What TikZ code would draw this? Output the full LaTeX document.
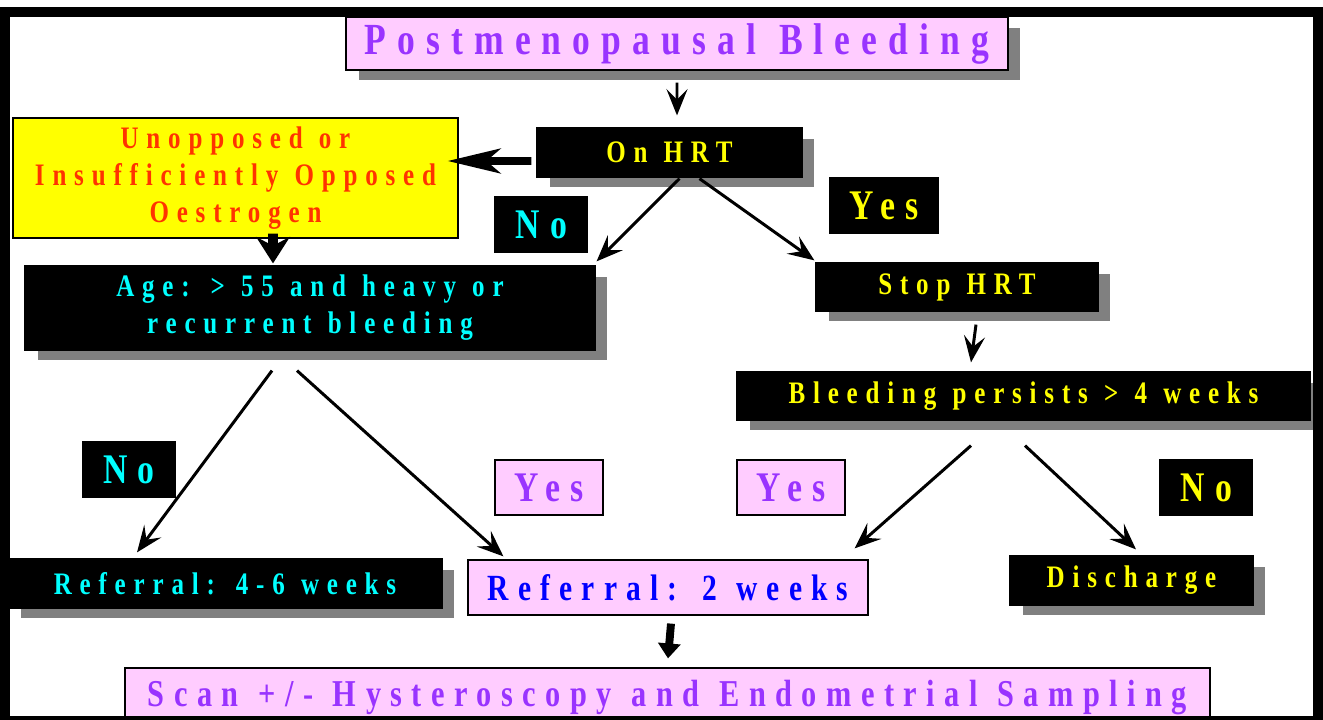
\documentclass[tikz,border=0pt]{standalone}
\usepackage{fontspec}
\newfontfamily\flowfont{Liberation Serif}[FakeStretch=0.8,LetterSpace=25,WordSpace=1.15]
\usetikzlibrary{shadows, calc, arrows.meta}

\definecolor{pinkfill}{HTML}{FFCCFF}
\definecolor{purpletext}{HTML}{9933FF}
\definecolor{orangetext}{HTML}{FF3300}
\definecolor{shadowgray}{HTML}{808080}
\definecolor{cyantext}{HTML}{00FFFF}
\definecolor{yellowtext}{HTML}{FFFF00}
\definecolor{bluetext}{HTML}{0000FF}

\begin{document}
\begin{tikzpicture}[x=0.02cm, y=-0.02cm,
    box/.style={draw=black, line width=0.7pt, inner sep=0pt, align=center,
                font=\flowfont\bfseries\fontsize{17.8}{21}\selectfont},
    blackbox/.style={box, fill=black},
    pinkbox/.style={box, fill=pinkfill},
    boxshadow/.style={drop shadow={shadow xshift=0.25cm, shadow yshift=-0.21cm,
                      fill=shadowgray, opacity=1}},
    answer/.style={box, minimum height=1.1cm,
                   font=\flowfont\bfseries\fontsize{24}{28}\selectfont},
    thinarrow/.style={-{Stealth[length=15pt, width=12pt, inset=6pt]}, line width=1.7pt},
    fatarrow/.style={-{Stealth[length=30pt, width=14pt, inset=8pt]}, line width=4.5pt},
    downarrow/.style={-{Stealth[length=15pt, width=19pt, inset=5pt]}, line width=5.6pt},
    stubarrow/.style={-{Triangle[length=8.5pt, width=12.5pt]}, line width=4.5pt}]
    \useasboundingbox (0,0) rectangle (1323,720);

    % top of the chart
    \node[pinkbox, boxshadow, text=purpletext, minimum width=13.24cm, minimum height=1.06cm,
          font=\flowfont\bfseries\fontsize{25.3}{30}\selectfont]
          (title) at (677,43.5) {Postmenopausal Bleeding};
    \node[blackbox, boxshadow, text=yellowtext, minimum width=5.3cm, minimum height=0.98cm]
          (onhrt) at (669.5,152.5) {On HRT};
    \node[box, fill=yellowtext, text=orangetext, minimum width=8.9cm, minimum height=2.4cm]
          (unopp) at (235.5,178) {Unopposed or\\Insufficiently Opposed\\Oestrogen};
    \node[answer, fill=black, text=cyantext, minimum width=1.84cm]
          (no1) at (541,224.5) {No};
    \node[answer, fill=black, text=yellowtext, minimum width=2.16cm]
          (yes1) at (884,205.5) {Yes};

    % left branch
    \node[blackbox, boxshadow, text=cyantext, minimum width=11.4cm, minimum height=1.68cm]
          (age) at (310,308) {Age: > 55 and heavy or\\recurrent bleeding};
    \node[answer, fill=black, text=cyantext, minimum width=1.84cm]
          (no2) at (129,469.5) {No};
    \node[answer, fill=pinkfill, text=purpletext, minimum width=2.16cm]
          (yes2) at (549,487.5) {Yes};
    \node[blackbox, boxshadow, text=cyantext, minimum width=8.68cm, minimum height=0.98cm]
          (ref46) at (225,583.5) {Referral: 4-6 weeks};

    % right branch
    \node[blackbox, boxshadow, text=yellowtext, minimum width=5.64cm, minimum height=0.96cm]
          (stophrt) at (957,287) {Stop HRT};
    \node[blackbox, boxshadow, text=yellowtext, minimum width=11.46cm, minimum height=0.96cm]
          (persist) at (1023.5,396) {Bleeding persists > 4 weeks};
    \node[answer, fill=pinkfill, text=purpletext, minimum width=2.16cm]
          (yes3) at (791,487.5) {Yes};
    \node[answer, fill=black, text=yellowtext, minimum width=1.84cm]
          (no3) at (1206,487.5) {No};
    \node[blackbox, boxshadow, text=yellowtext, minimum width=4.86cm, minimum height=0.98cm]
          (discharge) at (1131.5,580.5) {Discharge};

    % bottom
    \node[pinkbox, text=bluetext, minimum width=8cm, minimum height=1.1cm,
          font=\flowfont\bfseries\fontsize{21}{25}\selectfont]
          (ref2) at (668,587.5) {Referral: 2 weeks};
    \node[pinkbox, text=purpletext, minimum width=21.7cm, minimum height=1.2cm,
          font=\flowfont\bfseries\fontsize{21.6}{25}\selectfont]
          (scan) at (667.5,698) {Scan +/- Hysteroscopy and Endometrial Sampling};

    % arrows
    \draw[thinarrow] ($(title.south)+(0,12)$) -- ($(onhrt.north)+(7.5,-12)$);
    \draw[fatarrow] ($(onhrt.west)+(-5,8.5)$) -- ($(unopp.east)+(-11,-17)$);
    \draw[thinarrow] ($(onhrt.south)+(10,1)$) -- ($(age.north east)+(1,-4)$);
    \draw[thinarrow] ($(onhrt.south)+(30,1)$) -- ($(stophrt.north west)+(-1,-2)$);
    \draw[downarrow] ($(unopp.south)+(37.5,-5)$) -- ($(age.north)+(-37,-2)$);
    \draw[thinarrow] ($(age.south)+(-38,20)$) -- ($(ref46.north)+(-88,-6)$);
    \draw[thinarrow] ($(age.south)+(-13,20)$) -- ($(ref2.north west)+(36,-3)$);
    \draw[thinarrow] ($(stophrt.south)+(19,13)$) -- ($(persist.north)+(-52.5,-9)$);
    \draw[thinarrow] ($(persist.south)+(-52.5,25)$) -- ($(ref2.north east)+(-14,-11)$);
    \draw[thinarrow] ($(persist.south)+(1.5,25)$) -- ($(discharge.north)+(4.5,-6)$);
    \draw[stubarrow] ($(ref2.south)+(3,8)$) -- ($(scan.north)+(0.5,-9)$);

    % frame
    \draw[line width=5.7pt] (5,12) rectangle (1318,721);
\end{tikzpicture}
\end{document}
